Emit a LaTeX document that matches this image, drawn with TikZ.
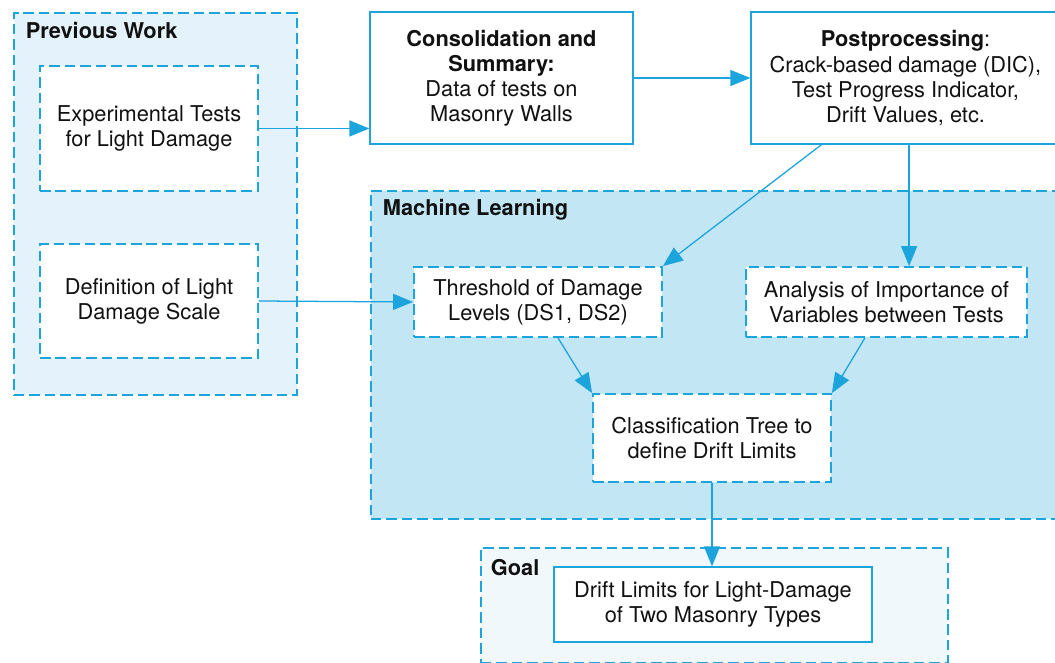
\documentclass[tikz,border=0pt]{standalone}
\usepackage{fontspec}
\setmainfont{TeX Gyre Heros}
\usepackage{xcolor}
\usepackage{tikz}
\usetikzlibrary{arrows.meta,positioning,calc}
\definecolor{edge}{HTML}{1CA4DC}
\definecolor{prevpale}{HTML}{E4F3FB}
\definecolor{mlpale}{HTML}{C2E6F4}
\definecolor{goalpale}{HTML}{F1F8FC}
\definecolor{ink}{HTML}{111111}
\tikzset{
  >={Triangle[length=5mm,width=4mm]},
  panel/.style={draw=edge,dash pattern=on 7.5pt off 3.5pt,line width=1.25pt,anchor=north west,inner sep=0pt},
  stepbox/.style={draw=edge,fill=white,line width=.9pt,align=center,text=ink,
    font=\fontsize{15.5}{17.8}\selectfont},
  dashbox/.style={stepbox,dash pattern=on 7.5pt off 3.5pt,line width=1.25pt},
  title/.style={anchor=west,text=ink,font=\fontsize{15.5}{17.8}\selectfont\bfseries},
  flow/.style={->,draw=edge,fill=edge,line width=.9pt},
}

\begin{document}
\begin{tikzpicture}[x=1cm,y=1cm]
  \fill[white] (0,0) rectangle (26.375,-16.575);
  \useasboundingbox (0,0) rectangle (26.375,-16.575);

  % three shaded groups
  \node[panel,fill=prevpale,minimum width=7.075cm,minimum height=9.55cm] (prev) at (0.325,-0.3) {};
  \node[panel,fill=mlpale,minimum width=17.3cm,minimum height=8.2cm] (ml) at (9.25,-4.75) {};
  \node[panel,fill=goalpale,minimum width=11.675cm,minimum height=2.875cm] (goal) at (12.0,-13.675) {};
  \node[title] (prevtitle) at (0.52,-0.75) {Previous Work};
  \node[title] (mltitle) at (9.45,-5.25) {Machine Learning};
  \node[title] (goaltitle) at (12.15,-14.2) {Goal};

  % previous work
  \node[dashbox,minimum width=5.45cm,minimum height=3.125cm] (exp) at (3.725,-3.2125)
    {Experimental Tests\\for Light Damage};
  \node[dashbox,minimum width=5.45cm,minimum height=2.85cm] (def) at (3.725,-7.525)
    {Definition of Light\\Damage Scale};

  % data handling
  \node[stepbox,minimum width=6.575cm,minimum height=3.3cm] (cons) at (12.5375,-1.95)
    {\textbf{Consolidation and}\\\textbf{Summary:}\\Data of tests on\\Masonry Walls};
  \node[stepbox,minimum width=7.725cm,minimum height=3.3cm] (post) at (22.6375,-1.95)
    {\textbf{Postprocessing}:\\Crack-based damage (DIC),\\Test Progress Indicator,\\Drift Values, etc.};

  % machine learning
  \node[dashbox,minimum width=6.2cm,minimum height=1.75cm] (thr) at (13.45,-7.55)
    {Threshold of Damage\\Levels (DS1, DS2)};
  \node[dashbox,minimum width=7.025cm,minimum height=1.75cm] (ana) at (22.1625,-7.55)
    {Analysis of Importance of\\Variables between Tests};
  \node[dashbox,minimum width=5.95cm,minimum height=2.2cm] (cls) at (17.8,-10.95)
    {Classification Tree to\\define Drift Limits};

  % goal
  \node[stepbox,minimum width=7.95cm,minimum height=1.875cm] (drift) at (17.825,-15.1125)
    {Drift Limits for Light-Damage\\of Two Masonry Types};

  \draw[flow] (exp.east) -- (exp.east -| cons.west);
  \draw[flow] (def.east) -- (thr.west);
  \draw[flow] (cons.east) -- (post.west);
  \draw[flow] ([xshift=-2.1cm]post.south) -- (thr.north east);
  \draw[flow] ([xshift=.09cm]post.south) -- ([xshift=.09cm]post.south |- ana.north);
  \draw[flow] ([xshift=5mm]thr.south) -- (cls.north west);
  \draw[flow] ([xshift=-5.4mm]ana.south) -- (cls.north east);
  \draw[flow] (cls.south) -- (cls.south |- drift.north);
\end{tikzpicture}
\end{document}
